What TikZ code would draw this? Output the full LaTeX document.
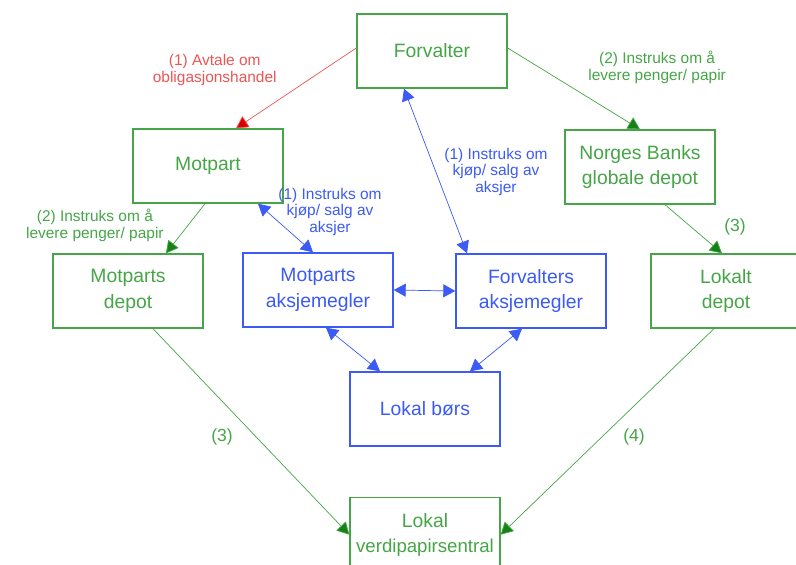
\documentclass[tikz,border=0pt]{standalone}
\usepackage{fontspec}
\setmainfont{Liberation Sans}
\usepackage{xcolor}
\definecolor{boxgreen}{RGB}{70,165,70}
\definecolor{tipgreen}{RGB}{20,130,20}
\definecolor{boxblue}{RGB}{60,90,245}
\definecolor{linered}{RGB}{235,85,85}
\usetikzlibrary{arrows.meta}

\tikzset{
    party/.style={draw=boxgreen, thick, fill=white, text=boxgreen, align=center,
        minimum width=3cm, minimum height=1.48cm, font=\fontsize{11}{14.5}\selectfont},
    broker/.style={party, draw=boxblue, text=boxblue},
    flow/.style={boxgreen, -{Triangle[length=2.4mm, width=2.6mm, fill=tipgreen]}},
    trade/.style={boxblue, {Triangle[length=2.4mm, width=2.6mm]}-{Triangle[length=2.4mm, width=2.6mm]}},
    note/.style={align=center, font=\fontsize{8.8}{9.6}\selectfont, inner sep=0pt},
    stepno/.style={text=boxgreen, font=\fontsize{10}{12}\selectfont}
}

\begin{document}
\begin{tikzpicture}[x=0.02cm, y=-0.02cm]
    % Frame of the picture (pixel grid, y downwards)
    \useasboundingbox (0,0) rectangle (796,565);
    \clip (0,0) rectangle (796,565);

    % Boxes
    \node[party]  (forv)   at (432,51)  {Forvalter};
    \node[party]  (motp)   at (208,166) {Motpart};
    \node[party]  (nbank)  at (640,167) {Norges Banks\\globale depot};
    \node[party]  (mdepot) at (128,291) {Motparts\\depot};
    \node[broker] (mmegl)  at (318,290) {Motparts\\aksjemegler};
    \node[broker] (fmegl)  at (531,291) {Forvalters\\aksjemegler};
    \node[party]  (ldepot) at (726,291) {Lokalt\\depot};
    \node[broker] (bors)   at (425,409) {Lokal børs};
    \node[party, anchor=north, inner xsep=0pt] (vps) at (425,497)
        {Lokal\\\fontsize{10.6}{14.5}\selectfont verdipapirsentral};

    % Agreement and instructions from the manager
    \draw[linered, -{Triangle[length=2.4mm, width=2.6mm, fill=red!85!black]}]
        (forv.west) ++(0,-3) -- (motp.north -| 236,0);
    \draw[flow] (forv.east) ++(0,-3) -- (nbank.north);
    \draw[trade] (forv.south -| 404,0) -- (fmegl.north -| 467,0);
    \draw[trade] (motp.south -| 258,0) -- (mmegl.north -| 313,0);
    \draw[flow] (motp.south -| 205,0) -- (mdepot.north -| 166,0);
    \draw[flow] (nbank.south -| 665,0) -- (ldepot.north -| 722,0);

    % Brokers and the exchange
    \draw[trade] (mmegl.east) -- (fmegl.west);
    \draw[trade] (mmegl.south -| 326,0) -- (bors.north -| 380,0);
    \draw[trade] (fmegl.south -| 522,0) -- (bors.north -| 470,0);

    % Settlement
    \draw[flow] (mdepot.south -| 153,0) -- (vps.west);
    \draw[flow] (ldepot.south -| 714,0) -- (vps.east);

    % Labels
    \node[note, text=linered, anchor=east] (lavtale) at (277,70) {(1) Avtale om\\obligasjonshandel};
    \node[note, text=boxgreen, anchor=west] (linstr1) at (588,67) {(2) Instruks om å\\levere penger/ papir};
    \node[note, text=boxblue] (lkjop1) at (496,172) {(1) Instruks om\\kjøp/ salg av\\aksjer};
    \node[note, text=boxblue] (lkjop2) at (330,212) {(1) Instruks om\\kjøp/ salg av\\aksjer};
    \node[note, text=boxgreen, anchor=east] (linstr2) at (164,225) {(2) Instruks om å\\levere penger/ papir};
    \node[stepno] (ltre1) at (735,227) {(3)};
    \node[stepno] (ltre2) at (222,437) {(3)};
    \node[stepno] (lfire) at (634,437) {(4)};
\end{tikzpicture}
\end{document}
